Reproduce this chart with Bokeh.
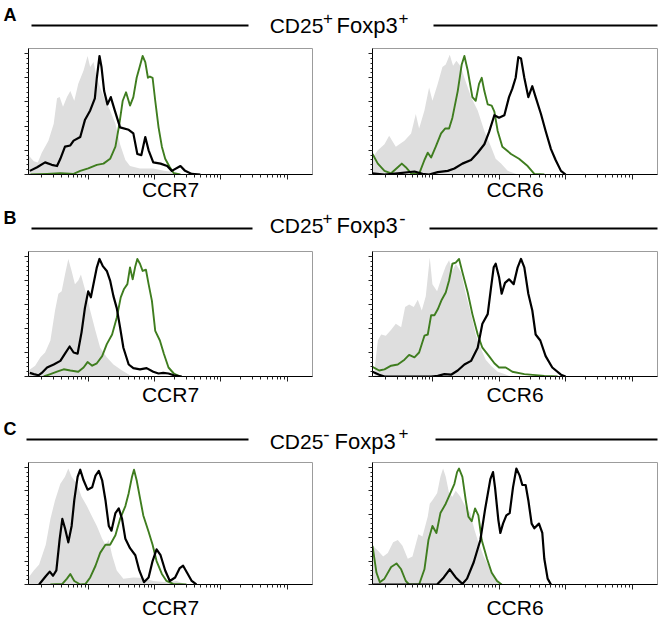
import numpy as np
from bokeh.plotting import figure
from bokeh.models import Range1d, FixedTicker, CustomJSTickFormatter
from bokeh.layouts import column, row
from bokeh.embed import file_html
from bokeh.resources import INLINE
from bokeh.core.properties import value

# ---------------- data (x: log10 fluorescence, y: % of max) ----------------
# Panel A : CD25+Foxp3+
a_ccr7_gray_x = [1.10,1.18,1.24,1.30,1.40,1.48,1.53,1.57,1.62,1.68,1.73,1.79,1.85,1.93,1.99,2.03,2.08,2.13,2.18,2.26,2.33,2.41,2.48,2.56,2.63,2.78,2.98,3.14,3.29,3.41]
a_ccr7_gray_y = [16,11,10,18,28,42,63,64,56,64,69,61,75,86,98,89,93,80,72,61,53,42,25,12,7,5,5,3,2,0]
a_ccr7_black_x = [1.12,1.23,1.35,1.45,1.53,1.58,1.65,1.73,1.78,1.88,1.95,2.03,2.10,2.13,2.17,2.20,2.24,2.29,2.34,2.40,2.48,2.61,2.68,2.74,2.80,2.86,2.91,2.98,3.09,3.19,3.26,3.39,3.46,3.56,3.69]
a_ccr7_black_y = [3,6,10,8,7,13,23,24,28,31,45,53,63,80,98,89,69,58,64,53,39,37,34,17,16,31,20,10,9,7,3,7,3,0.5,0]
a_ccr7_green_x = [1.13,1.38,1.58,1.78,1.88,2.00,2.13,2.23,2.33,2.41,2.47,2.52,2.57,2.63,2.68,2.73,2.78,2.82,2.86,2.90,2.93,2.97,3.01,3.06,3.11,3.16,3.23,3.29,3.39]
a_ccr7_green_y = [0,0.5,1,0.5,3,5,8,9,13,23,42,61,68,57,64,80,90,98,93,80,81,80,61,39,23,13,6,1,0]

a_ccr6_gray_x = [1.10,1.18,1.28,1.35,1.45,1.58,1.68,1.75,1.80,1.88,1.95,2.00,2.08,2.15,2.20,2.26,2.31,2.36,2.43,2.48,2.58,2.68,2.78,2.88,2.95,3.03,3.13,3.28]
a_ccr6_gray_y = [14,20,25,32,23,28,34,50,38,53,72,61,75,89,91,99,90,94,89,80,64,53,36,23,13,9,3,0]
a_ccr6_green_x = [1.10,1.18,1.28,1.38,1.48,1.54,1.60,1.68,1.80,1.88,1.93,1.98,2.05,2.13,2.19,2.25,2.30,2.38,2.44,2.48,2.53,2.60,2.65,2.70,2.74,2.78,2.83,2.89,2.93,2.98,3.05,3.18,3.30,3.43,3.53,3.68]
a_ccr6_green_y = [17,9,3,1,6,9,6,1,0.5,12,18,14,23,34,38,38,47,69,91,98,86,64,61,75,80,69,58,57,52,36,23,17,13,7,0.5,0]
a_ccr6_black_x = [1.10,1.28,1.48,1.73,1.85,1.95,2.08,2.23,2.33,2.45,2.58,2.68,2.78,2.85,2.93,3.00,3.08,3.15,3.20,3.25,3.29,3.33,3.38,3.44,3.50,3.55,3.63,3.70,3.78,3.85,3.93,4.00]
a_ccr6_black_y = [1,0,1,2.5,0.5,0,2,3,5,9,12,18,25,35,49,47,49,64,71,80,97,96,80,64,73,64,50,36,21,12,3,0]

# Panel B : CD25+Foxp3-
b_ccr7_gray_x = [1.10,1.20,1.28,1.35,1.43,1.50,1.55,1.60,1.65,1.70,1.75,1.80,1.85,1.89,1.93,1.97,2.03,2.11,2.18,2.28,2.38,2.51,2.63,2.73]
b_ccr7_gray_y = [5,9,16,20,30,55,69,71,85,98,88,77,80,85,77,69,55,38,24,16,10,5,1,0]
b_ccr7_black_x = [1.12,1.18,1.25,1.30,1.38,1.48,1.58,1.65,1.72,1.78,1.84,1.90,1.95,2.00,2.04,2.09,2.13,2.17,2.22,2.28,2.33,2.38,2.43,2.48,2.53,2.61,2.68,2.78,2.88,2.98,3.06,3.13,3.21,3.29,3.41]
b_ccr7_black_y = [3,2,1,3,7.5,10,13,19,25,20,19,37,57,71,66,80,91,98,92,88,80,67,57,41,24,10,7,6,7,4,2.5,3,2.5,1,0]
b_ccr7_green_x = [1.33,1.43,1.53,1.63,1.73,1.85,1.93,1.99,2.06,2.13,2.21,2.28,2.36,2.43,2.49,2.54,2.59,2.63,2.67,2.71,2.74,2.78,2.82,2.87,2.91,2.96,3.01,3.08,3.14,3.21,3.29,3.39]
b_ccr7_green_y = [0,2,4,6,5,4,7.5,12,9,11,17,27,35,49,66,73,77,91,81,92,98,94,88,89,77,63,38,30,19,7.5,2.5,0]

b_ccr6_gray_x = [1.13,1.18,1.23,1.30,1.38,1.45,1.53,1.59,1.65,1.72,1.78,1.84,1.90,1.96,2.00,2.07,2.14,2.20,2.25,2.30,2.35,2.43,2.50,2.58,2.65,2.73,2.80,2.88,2.98,3.08,3.18]
b_ccr6_gray_y = [5,30,35,34,39,44,41,58,60,58,64,55,67,99,77,71,83,92,97,88,94,87,69,52,35,23,14,9,4,2,0]
b_ccr6_green_x = [1.10,1.20,1.28,1.38,1.48,1.58,1.65,1.73,1.80,1.88,1.93,1.98,2.03,2.08,2.14,2.20,2.25,2.30,2.35,2.40,2.45,2.53,2.60,2.68,2.75,2.85,2.93,3.00,3.10,3.20,3.38,3.68,3.88]
b_ccr6_green_y = [8,5,6,9,10,14,18,16,20,34,35,51,51,56,64,70,80,94,95,98,87,70,52,35,24,17,11,7.5,7.5,4,2,0.5,0]
b_ccr6_black_x = [1.10,1.20,1.28,1.98,2.08,2.18,2.28,2.38,2.48,2.58,2.68,2.75,2.83,2.88,2.92,2.95,3.00,3.04,3.09,3.15,3.22,3.28,3.33,3.38,3.44,3.50,3.55,3.62,3.70,3.80,3.93,4.00]
b_ccr6_black_y = [4,1.5,0,0,0.5,2,1.5,5,10,13,24,44,52,74,91,94,83,69,78,81,77,91,98,91,69,55,35,30,17,7.5,1.5,0]

# Panel C : CD25-Foxp3+
c_ccr7_gray_x = [1.10,1.18,1.26,1.36,1.43,1.50,1.58,1.65,1.70,1.75,1.83,1.90,1.98,2.05,2.13,2.21,2.26,2.31,2.36,2.43,2.53,2.68,2.83,2.98,3.18,3.33,3.48]
c_ccr7_gray_y = [6,12,17,34,56,72,86,92,99,92,86,75,67,59,50,39,34,38,25,12,5,6,5.5,3,2,3,0]
c_ccr7_black_x = [1.26,1.36,1.42,1.47,1.52,1.57,1.61,1.65,1.70,1.75,1.79,1.84,1.88,1.93,1.99,2.06,2.11,2.16,2.21,2.26,2.31,2.35,2.41,2.46,2.51,2.56,2.63,2.71,2.77,2.84,2.91,2.97,3.03,3.09,3.16,3.23,3.31,3.38,3.43,3.49,3.56,3.63]
c_ccr7_black_y = [0,7,11,7.5,12,39,56,48,36,50,72,92,98,89,81,83,93,97,89,72,50,46,61,65,56,39,31,25,12,2,6,20,30,25,12,3,6,14,16,10,3,0]
c_ccr7_green_x = [1.43,1.61,1.68,1.73,1.79,1.88,1.96,2.03,2.11,2.18,2.26,2.33,2.41,2.48,2.56,2.61,2.66,2.69,2.73,2.78,2.83,2.91,2.97,3.03,3.11,3.18,3.28,3.48]
c_ccr7_green_y = [0,0.5,5,9,3,0,0.5,6,16,27,34,34,42,56,67,78,92,98,89,74,59,45,34,20,9,3,0.5,0]

c_ccr6_gray_x = [1.10,1.18,1.26,1.33,1.41,1.48,1.55,1.63,1.70,1.79,1.85,1.93,1.96,2.00,2.07,2.12,2.16,2.20,2.25,2.30,2.35,2.42,2.50,2.57,2.63,2.69,2.77,2.87,2.97,3.04]
c_ccr6_gray_y = [33,29,24,27,36,38,33,22,24,43,41,58,69,72,78,92,99,92,78,75,80,75,66,61,47,36,24,13,5,0]
c_ccr6_green_x = [1.10,1.16,1.21,1.28,1.38,1.46,1.53,1.60,1.65,1.80,1.88,1.94,2.00,2.06,2.12,2.20,2.27,2.33,2.37,2.40,2.45,2.50,2.54,2.59,2.64,2.69,2.74,2.82,2.89,2.97,3.04]
c_ccr6_green_y = [33,10,2,5,15,18,13,3,0,0,13,38,50,44,61,69,78,86,96,99,92,72,58,54,65,59,38,22,10,3,0]
c_ccr6_black_x = [1.10,2.07,2.17,2.26,2.35,2.45,2.52,2.62,2.72,2.79,2.87,2.91,2.94,2.99,3.02,3.06,3.11,3.16,3.21,3.26,3.31,3.35,3.40,3.44,3.49,3.53,3.60,3.65,3.68,3.73,3.78]
c_ccr6_black_y = [0,0,6,13,6,0.5,5,19,38,64,90,96,83,55,44,52,59,61,83,99,93,85,85,72,52,48,52,44,22,5,0]

panel_letters = ["A", "B", "C"]
marker_labels = ["CCR7", "CCR6"]
populations = [("CD25", "+", "Foxp3", "+"), ("CD25", "+", "Foxp3", "-"), ("CD25", "-", "Foxp3", "+")]
y_major = [0, 20, 40, 60, 80, 100]

# ---------------- styling ----------------
FONT = "Liberation Sans"
GREEN = "#3f7d1f"
GRAY = "#dedede"
X_LO, X_HI = 10 ** 1.1, 10 ** 5.38
x_major = [1e2, 1e3, 1e4, 1e5]
x_minor = [k * 10 ** n for n in range(1, 5) for k in range(2, 10) if X_LO < k * 10 ** n < X_HI]
y_minor = list(range(0, 104, 4))
empty_fmt = "return ''"


def hist(gx, gy, kx, ky, grx, gry, label, left, height, top, bottom, standoff):
    p = figure(width=330, height=height, x_axis_type="log",
               x_range=Range1d(X_LO, X_HI), y_range=Range1d(0, 104.2),
               output_backend="svg", toolbar_location=None,
               min_border_left=28 if left else 42, min_border_right=18 if left else 3,
               min_border_top=top, min_border_bottom=bottom)
    p.varea(x=10 ** np.array(gx), y1=np.zeros(len(gy)), y2=gy, fill_color=GRAY)
    p.line(10 ** np.array(grx), gry, line_color=GREEN, line_width=1.9, line_join="round")
    p.line(10 ** np.array(kx), ky, line_color="black", line_width=2.2, line_join="round")
    p.grid.visible = False
    p.outline_line_color = "#9c9c9c"
    p.outline_line_width = 1
    p.background_fill_color = "white"
    p.border_fill_color = "white"

    xa = p.xaxis[0]
    xa.ticker = FixedTicker(ticks=x_major, minor_ticks=x_minor)
    xa.formatter = CustomJSTickFormatter(code=empty_fmt)
    xa.major_label_text_font_size = "0px"
    xa.major_label_standoff = 0
    xa.major_tick_out = 5
    xa.major_tick_in = 0
    xa.minor_tick_out = 3
    xa.minor_tick_in = 0
    xa.axis_line_color = "black"
    xa.major_tick_line_color = "#222222"
    xa.minor_tick_line_color = "#222222"
    xa.axis_label = label
    xa.axis_label_text_font = FONT
    xa.axis_label_text_font_size = "21px"
    xa.axis_label_text_font_style = "normal"
    xa.axis_label_text_color = "black"
    xa.axis_label_standoff = standoff

    ya = p.yaxis[0]
    ya.ticker = FixedTicker(ticks=y_major, minor_ticks=y_minor)
    ya.formatter = CustomJSTickFormatter(code=empty_fmt)
    ya.major_label_text_font_size = "0px"
    ya.major_label_standoff = 0
    ya.major_tick_out = 4
    ya.major_tick_in = 0
    ya.minor_tick_out = 2
    ya.minor_tick_in = 0
    ya.axis_line_color = "black"
    ya.major_tick_line_color = "#222222"
    ya.minor_tick_line_color = "#222222"
    return p


def header(h, line_y, letter, letter_y, parts, left_line, right_line, title_y, sup_y, xs):
    # xs: centre of first word, centre of first sign, left of second word, centre of second sign
    p = figure(width=660, height=h, x_range=Range1d(0, 660), y_range=Range1d(h, 0),
               output_backend="svg", toolbar_location=None, min_border=0,
               x_axis_location=None, y_axis_location=None)
    p.grid.visible = False
    p.outline_line_color = None
    p.segment(x0=[left_line[0], right_line[0]], y0=[line_y, line_y],
              x1=[left_line[1], right_line[1]], y1=[line_y, line_y],
              line_color="black", line_width=2)
    p.text(x=[3], y=[letter_y], text=[letter], text_font=value(FONT),
           text_font_size="18px", text_font_style="bold", text_align="left",
           text_baseline="middle", text_color="black")
    p.text(x=[xs[0]], y=[title_y], text=[parts[0]],
           text_font=value(FONT), text_font_size="21px", text_align="center",
           text_baseline="middle", text_color="black")
    p.text(x=[xs[2]], y=[title_y], text=[parts[2]],
           text_font=value(FONT), text_font_size="22px", text_align="left",
           text_baseline="middle", text_color="black")
    for xx, s, yy in zip((xs[1], xs[3]), (parts[1], parts[3]), sup_y):
        fs = "17px" if s == "+" else "19px"
        p.text(x=[xx], y=[yy], text=[s], text_font=value(FONT),
               text_font_size=fs, text_align="center", text_baseline="middle",
               text_color="black")
    return p


hA = header(44, 25, panel_letters[0], 14, populations[0], (31, 248), (433, 657), 25, (17.5, 17.5), (296, 327.5, 336, 403))
hB = header(42, 23, panel_letters[1], 12.5, populations[1], (31, 252), (429, 657), 20, (12.5, 13), (296, 327, 336, 402))
hC = header(50, 30, panel_letters[2], 19.5, populations[2], (26, 248), (435, 657), 32, (25, 23), (296, 326, 334, 403))

pA1 = hist(a_ccr7_gray_x, a_ccr7_gray_y, a_ccr7_black_x, a_ccr7_black_y, a_ccr7_green_x, a_ccr7_green_y, marker_labels[0], True, 161, 4, 31, -2)
pA2 = hist(a_ccr6_gray_x, a_ccr6_gray_y, a_ccr6_black_x, a_ccr6_black_y, a_ccr6_green_x, a_ccr6_green_y, marker_labels[1], False, 161, 4, 31, -2)
pB1 = hist(b_ccr7_gray_x, b_ccr7_gray_y, b_ccr7_black_x, b_ccr7_black_y, b_ccr7_green_x, b_ccr7_green_y, marker_labels[0], True, 162, 4, 33, 1)
pB2 = hist(b_ccr6_gray_x, b_ccr6_gray_y, b_ccr6_black_x, b_ccr6_black_y, b_ccr6_green_x, b_ccr6_green_y, marker_labels[1], False, 162, 4, 33, 1)
pC1 = hist(c_ccr7_gray_x, c_ccr7_gray_y, c_ccr7_black_x, c_ccr7_black_y, c_ccr7_green_x, c_ccr7_green_y, marker_labels[0], True, 162, 3, 35, 6)
pC2 = hist(c_ccr6_gray_x, c_ccr6_gray_y, c_ccr6_black_x, c_ccr6_black_y, c_ccr6_green_x, c_ccr6_green_y, marker_labels[1], False, 162, 3, 35, 6)

layout = column(hA, row(pA1, pA2), hB, row(pB1, pB2), hC, row(pC1, pC2))

open("out.html", "w").write(file_html(layout, INLINE))
